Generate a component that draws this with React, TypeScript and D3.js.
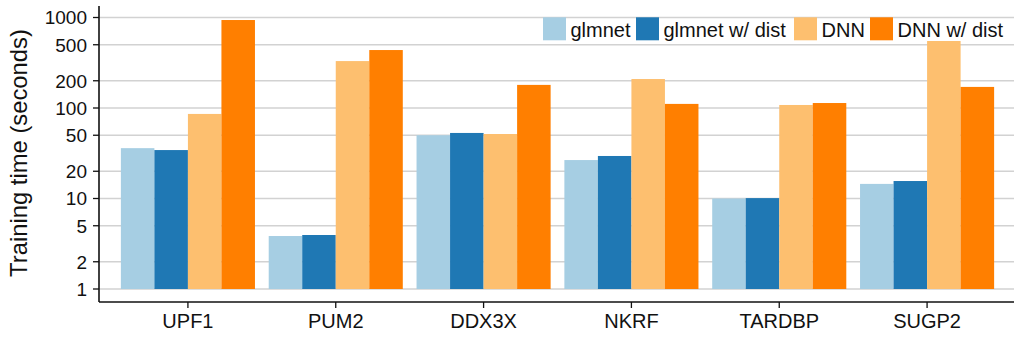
import React from "react";
import * as d3 from "d3";

const categories = ["UPF1", "PUM2", "DDX3X", "NKRF", "TARDBP", "SUGP2"];
const seriesNames = ["glmnet", "glmnet w/ dist", "DNN", "DNN w/ dist"];
const glmnet = [36, 3.85, 50, 26.6, 10, 14.5];
const glmnetDist = [34.3, 3.95, 53, 29.5, 10.1, 15.6];
const dnn = [86, 330, 51.6, 209, 108, 550];
const dnnDist = [938, 437, 180, 111, 113.5, 171];
const colors = ["#a6cee3", "#1f78b4", "#fdbf6f", "#ff7f00"];
const yTicks = [1, 2, 5, 10, 20, 50, 100, 200, 500, 1000];

const W = 1014;
const H = 339;
const FONT = "'Liberation Sans', Arial, Helvetica, sans-serif";

export default function App() {
  const series = [glmnet, glmnetDist, dnn, dnnDist];
  const axisX = 99;
  const axisBottom = 302;
  const axisTop = 6;
  const y = d3.scaleLog().domain([0.7184, 1340]).range([axisBottom, axisTop]);
  const x0 = d3
    .scaleBand<string>()
    .domain(categories)
    .range([114, 1001])
    .paddingInner(0.093)
    .paddingOuter(0.0465);
  const x1 = d3
    .scaleBand<string>()
    .domain(seriesNames)
    .range([0, x0.bandwidth()])
    .padding(0);

  const legendSwatchX = [543, 636, 794, 870];

  return (
    <svg
      width={W}
      height={H}
      style={{ position: "absolute", left: 0, top: 0, fontFamily: FONT }}
    >
      <rect x={0} y={0} width={W} height={H} fill="#fff" />
      {yTicks.map((t) => (
        <line
          key={"g" + t}
          x1={axisX}
          x2={W}
          y1={y(t)}
          y2={y(t)}
          stroke="#d2d2d2"
          strokeWidth={1.5}
        />
      ))}
      {categories.map((c, i) => (
        <g key={c} transform={`translate(${x0(c)},0)`}>
          {seriesNames.map((s, j) => {
            const v = series[j][i];
            return (
              <rect
                key={s}
                x={x1(s)}
                y={y(v)}
                width={x1.bandwidth()}
                height={y(1) - y(v)}
                fill={colors[j]}
              />
            );
          })}
        </g>
      ))}
      <line x1={axisX} x2={axisX} y1={axisTop} y2={axisBottom} stroke="#111" strokeWidth={1.6} />
      {yTicks.map((t) => (
        <g key={"t" + t}>
          <line x1={axisX - 6} x2={axisX} y1={y(t)} y2={y(t)} stroke="#111" strokeWidth={1.3} />
          <text
            x={87}
            y={y(t)}
            dy="0.36em"
            textAnchor="end"
            fontSize={19}
            fill="#111"
          >
            {t}
          </text>
        </g>
      ))}
      <text
        transform={`translate(27,153) rotate(-90)`}
        textAnchor="middle"
        fontSize={23.8}
        fill="#111"
      >
        Training time (seconds)
      </text>
      <line x1={axisX} x2={W} y1={axisBottom} y2={axisBottom} stroke="#111" strokeWidth={1.6} />
      {categories.map((c) => {
        const cx = (x0(c) as number) + x0.bandwidth() / 2;
        return (
          <g key={"x" + c}>
            <line x1={cx} x2={cx} y1={axisBottom} y2={axisBottom + 6} stroke="#111" strokeWidth={1.3} />
            <text x={cx} y={328} textAnchor="middle" fontSize={20} fill="#111">
              {c}
            </text>
          </g>
        );
      })}
      {seriesNames.map((s, j) => (
        <g key={"l" + s}>
          <rect x={legendSwatchX[j]} y={17.3} width={23} height={23} fill={colors[j]} />
          <text x={legendSwatchX[j] + 27.5} y={36.5} fontSize={20} fill="#111">
            {s}
          </text>
        </g>
      ))}
    </svg>
  );
}
